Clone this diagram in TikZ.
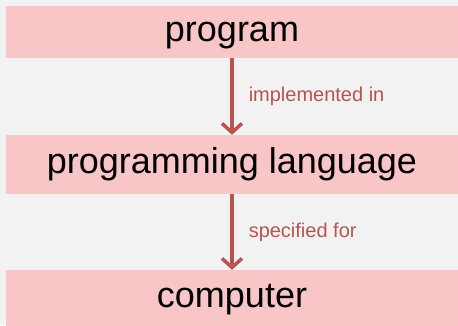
\documentclass[tikz,border=0pt]{standalone}
\usepackage{fontspec}
\setmainfont{Liberation Sans}
\usetikzlibrary{arrows.meta,positioning}
\definecolor{ChainBack}{HTML}{F2F2F2}
\definecolor{ChainPink}{HTML}{F9C6C8}
\definecolor{ChainRed}{HTML}{B85450}
\tikzset{
  layerbox/.style={fill=ChainPink,draw=none,inner sep=0pt,minimum width=452pt,
    text height=26pt,text depth=7.5pt,font=\fontsize{36}{40}\selectfont},
  linkarrow/.style={-{Straight Barb[length=9pt,width=20pt,line width=3.5pt]},line width=3.5pt,draw=ChainRed},
  linklabel/.style={font=\fontsize{20}{23}\selectfont,text=ChainRed,inner sep=0pt,anchor=west}
}
\begin{document}
\begin{tikzpicture}[x=1pt,y=-1pt]
  \useasboundingbox[fill=ChainBack] (0,0) rectangle (458,325);
  % three stacked layers, each one rests on the next
  \node[layerbox,minimum height=52pt] (program) at (232,32) {program};
  \node[layerbox,minimum height=59pt] (language) at (232,164.5) {programming language};
  \node[layerbox,minimum height=56pt] (computer) at (232,298) {computer};

  \draw[linkarrow] (program) -- node[linklabel,xshift=15pt]{implemented in} (language);
  \draw[linkarrow] (language) -- node[linklabel,xshift=15pt]{specified for} (computer);
\end{tikzpicture}
\end{document}
